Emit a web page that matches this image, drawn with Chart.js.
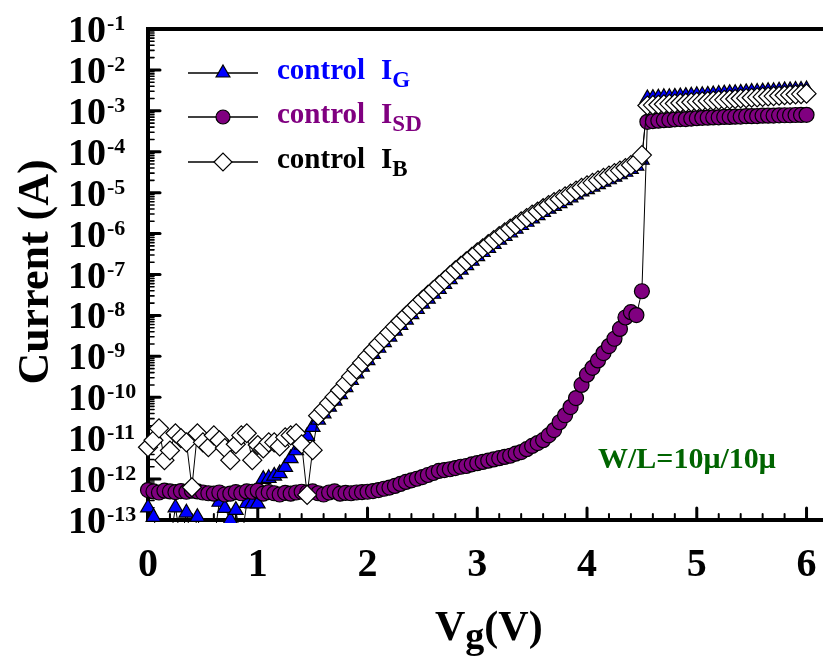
<!DOCTYPE html>
<html>
<head>
<meta charset="utf-8">
<script src="https://cdn.jsdelivr.net/npm/chart.js@4.4.1/dist/chart.umd.min.js"></script>
<style>
  html, body { margin: 0; padding: 0; background: #ffffff; }
  canvas { display: block; }
</style>
</head>
<body>
<canvas id="chart" width="823" height="660"></canvas>
<script>
// Gate voltage sweep (V)
const vg = [
  0.00, 0.05, 0.10, 0.15, 0.20, 0.25, 0.30, 0.35, 0.40, 0.45,
  0.50, 0.55, 0.60, 0.65, 0.70, 0.75, 0.80, 0.85, 0.90, 0.95,
  1.00, 1.05, 1.10, 1.15, 1.20, 1.25, 1.30, 1.35, 1.40, 1.45,
  1.50, 1.55, 1.60, 1.65, 1.70, 1.75, 1.80, 1.85, 1.90, 1.95,
  2.00, 2.05, 2.10, 2.15, 2.20, 2.25, 2.30, 2.35, 2.40, 2.45,
  2.50, 2.55, 2.60, 2.65, 2.70, 2.75, 2.80, 2.85, 2.90, 2.95,
  3.00, 3.05, 3.10, 3.15, 3.20, 3.25, 3.30, 3.35, 3.40, 3.45,
  3.50, 3.55, 3.60, 3.65, 3.70, 3.75, 3.80, 3.85, 3.90, 3.95,
  4.00, 4.05, 4.10, 4.15, 4.20, 4.25, 4.30, 4.35, 4.40, 4.45,
  4.50,
  4.55, 4.60, 4.65, 4.70, 4.75, 4.80, 4.85, 4.90, 4.95, 5.00,
  5.05, 5.10, 5.15, 5.20, 5.25, 5.30, 5.35, 5.40, 5.45, 5.50,
  5.55, 5.60, 5.65, 5.70, 5.75, 5.80, 5.85, 5.90, 5.95, 6.00
];

// Gate current I_G (A)
const iG = [
  2.0e-13, 1.17e-13, 3e-14, 3e-14, 3e-14, 2.0e-13, 3e-14, 1.5e-13, 3e-14, 1.17e-13,
  3e-14, 3e-14, 3e-14, 2.75e-13, 1.95e-13, 1.0e-13, 1.74e-13, 3e-14, 2.57e-13, 2.5e-13,
  2.5e-13, 1.0e-12, 1.05e-12, 1.2e-12, 1.38e-12, 1.95e-12, 3.2e-12, 5.0e-12, 6.8e-12, 1.12e-11,
  1.86e-11, 2.8e-11, 4.0e-11, 5.8e-11, 8.2e-11, 1.18e-10, 1.75e-10, 2.6e-10, 3.8e-10, 5.5e-10,
  8.0e-10, 1.13e-9, 1.6e-9, 2.2e-9, 3.0e-9, 4.2e-9, 5.8e-9, 7.8e-9, 1.06e-8, 1.42e-8,
  1.92e-8, 2.53e-8, 3.34e-8, 4.4e-8, 5.8e-8, 7.6e-8, 1.0e-7, 1.3e-7, 1.67e-7, 2.15e-7,
  2.78e-7, 3.5e-7, 4.4e-7, 5.5e-7, 7.0e-7, 8.6e-7, 1.06e-6, 1.3e-6, 1.6e-6, 1.92e-6,
  2.32e-6, 2.78e-6, 3.34e-6, 4.0e-6, 4.7e-6, 5.5e-6, 6.5e-6, 7.6e-6, 9.0e-6, 1.06e-5,
  1.21e-5, 1.39e-5, 1.6e-5, 1.83e-5, 2.1e-5, 2.42e-5, 2.78e-5, 3.2e-5, 3.76e-5, 4.5e-5,
  6.3e-5,
  2.0e-3, 2.04e-3, 2.09e-3, 2.14e-3, 2.14e-3, 2.19e-3, 2.24e-3, 2.29e-3, 2.34e-3, 2.40e-3,
  2.40e-3, 2.45e-3, 2.51e-3, 2.57e-3, 2.63e-3, 2.69e-3, 2.69e-3, 2.75e-3, 2.82e-3, 2.88e-3,
  2.88e-3, 2.95e-3, 3.02e-3, 3.02e-3, 3.09e-3, 3.16e-3, 3.16e-3, 3.24e-3, 3.24e-3, 3.31e-3
];

// Source-drain current I_SD (A)
const iSD = [
  5.4e-13, 5.0e-13, 4.7e-13, 5.2e-13, 5.0e-13, 4.8e-13, 5.1e-13, 4.9e-13, 5.2e-13, 5.0e-13,
  4.7e-13, 4.5e-13, 4.4e-13, 4.7e-13, 4.2e-13, 4.4e-13, 4.8e-13, 4.5e-13, 5.0e-13, 4.9e-13,
  5.2e-13, 4.4e-13, 4.8e-13, 4.5e-13, 4.2e-13, 4.6e-13, 4.4e-13, 4.7e-13, 4.9e-13, 4.7e-13,
  5.0e-13, 4.5e-13, 4.2e-13, 4.7e-13, 5.0e-13, 4.4e-13, 4.6e-13, 4.5e-13, 4.7e-13, 4.8e-13,
  4.9e-13, 5.1e-13, 5.4e-13, 5.8e-13, 6.2e-13, 6.8e-13, 7.6e-13, 8.5e-13, 9.3e-13, 1.02e-12,
  1.12e-12, 1.26e-12, 1.41e-12, 1.58e-12, 1.66e-12, 1.74e-12, 1.86e-12, 2.0e-12, 2.09e-12, 2.29e-12,
  2.45e-12, 2.63e-12, 2.82e-12, 3.02e-12, 3.24e-12, 3.47e-12, 3.72e-12, 4.17e-12, 4.57e-12, 5.37e-12,
  6.46e-12, 7.59e-12, 8.91e-12, 1.17e-11, 1.58e-11, 2.45e-11, 3.63e-11, 5.75e-11, 9.55e-11, 2.0e-10,
  3.55e-10, 5.25e-10, 7.94e-10, 1.2e-9, 1.78e-9, 2.69e-9, 4.68e-9, 8.9e-9, 1.2e-8, 1.02e-8,
  3.9e-8,
  5.4e-4, 5.6e-4, 5.75e-4, 5.9e-4, 6.0e-4, 6.2e-4, 6.3e-4, 6.3e-4, 6.45e-4, 6.6e-4,
  6.75e-4, 6.8e-4, 6.9e-4, 6.95e-4, 7.1e-4, 7.1e-4, 7.2e-4, 7.25e-4, 7.4e-4, 7.4e-4,
  7.45e-4, 7.6e-4, 7.6e-4, 7.65e-4, 7.75e-4, 7.8e-4, 7.8e-4, 7.9e-4, 7.95e-4, 8.0e-4
];

// Bulk current I_B (A)
const iB = [
  6.0e-12, 8.9e-12, 1.74e-11, 2.9e-12, 5.0e-12, 1.32e-11, 1.0e-11, 7.9e-12, 6.3e-13, 1.32e-11,
  7.9e-12, 6.0e-12, 1.17e-11, 8.9e-12, 5.75e-12, 2.9e-12, 7.1e-12, 1.17e-11, 1.32e-11, 2.9e-12,
  6.8e-12, 5.6e-12, 7.9e-12, 7.9e-12, 6.3e-12, 1.05e-11, 1.17e-11, 1.32e-11, 7.1e-12, 4.1e-13,
  5.1e-12, 3.55e-11, 5.0e-11, 7.2e-11, 1.02e-10, 1.48e-10, 2.19e-10, 3.24e-10, 4.79e-10, 6.9e-10,
  1.0e-9, 1.41e-9, 2.0e-9, 2.75e-9, 3.8e-9, 5.25e-9, 7.2e-9, 9.8e-9, 1.32e-8, 1.78e-8,
  2.4e-8, 3.16e-8, 4.17e-8, 5.5e-8, 7.2e-8, 9.5e-8, 1.26e-7, 1.62e-7, 2.09e-7, 2.69e-7,
  3.47e-7, 4.37e-7, 5.5e-7, 6.9e-7, 8.7e-7, 1.07e-6, 1.32e-6, 1.62e-6, 2.0e-6, 2.4e-6,
  2.9e-6, 3.47e-6, 4.17e-6, 5.0e-6, 5.9e-6, 6.9e-6, 8.1e-6, 9.5e-6, 1.12e-5, 1.32e-5,
  1.51e-5, 1.74e-5, 2.0e-5, 2.29e-5, 2.63e-5, 3.02e-5, 3.47e-5, 4.0e-5, 4.7e-5, 5.6e-5,
  8.3e-5,
  1.35e-3, 1.38e-3, 1.41e-3, 1.45e-3, 1.48e-3, 1.51e-3, 1.55e-3, 1.58e-3, 1.62e-3, 1.66e-3,
  1.70e-3, 1.74e-3, 1.78e-3, 1.82e-3, 1.86e-3, 1.91e-3, 1.95e-3, 2.0e-3, 2.04e-3, 2.09e-3,
  2.14e-3, 2.19e-3, 2.24e-3, 2.29e-3, 2.34e-3, 2.40e-3, 2.45e-3, 2.51e-3, 2.57e-3, 2.63e-3
];

// Axis tick labels
const xTickLabels = [0, 1, 2, 3, 4, 5, 6];
const yTickExponents = [-1, -2, -3, -4, -5, -6, -7, -8, -9, -10, -11, -12, -13];

// Legend text: prefix and subscript of each series
const seriesPrefix = ['control', 'control', 'control'];
const seriesSub = ['G', 'SD', 'B'];
const deviceLabel = 'W/L=10\u03bc/10\u03bc';

const SERIF = '"Liberation Serif", "Times New Roman", serif';
const bold = (px) => `bold ${px}px ${SERIF}`;

const styles = [
  { pointStyle: 'triangle', radius: 8.5, fill: '#0000ff', text: '#0000ff', order: 3 },
  { pointStyle: 'circle',   radius: 7.5, fill: '#800080', text: '#800080', order: 2 },
  { pointStyle: 'rectRot',  radius: 9.5, fill: '#ffffff', text: '#000000', order: 1 }
];

const series = [iG, iSD, iB];

const datasets = series.map((vals, k) => ({
  label: seriesPrefix[k] + ' I' + seriesSub[k],
  data: vg.map((v, i) => ({ x: v, y: vals[i] })),
  order: styles[k].order,
  borderColor: '#000000',
  borderWidth: 1,
  pointStyle: styles[k].pointStyle,
  pointRadius: styles[k].radius,
  pointBackgroundColor: styles[k].fill,
  pointBorderColor: '#000000',
  pointBorderWidth: 1.2,
  tension: 0,
  clip: { left: 14, top: 14, right: 14, bottom: 3 }
}));

// Frame and inward tick marks, drawn beneath the data
const framePlugin = {
  id: 'frame',
  beforeDatasetsDraw(chart) {
    const { ctx, chartArea: a, scales: { x, y } } = chart;
    const seg = (x1, y1, x2, y2) => { ctx.beginPath(); ctx.moveTo(x1, y1); ctx.lineTo(x2, y2); ctx.stroke(); };
    ctx.save();
    ctx.strokeStyle = '#000000';
    ctx.lineCap = 'round';

    // x ticks: majors every 1 V, minors every 0.2 V
    for (let k = 0; k <= 30; k++) {
      const px = x.getPixelForValue(k / 5);
      if (px > a.right) break;
      if (k % 5 === 0) { ctx.lineWidth = 3; seg(px, a.bottom, px, a.bottom - 12); }
      else { ctx.lineWidth = 2; seg(px, a.bottom, px, a.bottom - 6); }
    }
    // y ticks: decades and 2..9 minors
    for (let e = -13; e <= -1; e++) {
      const py = y.getPixelForValue(Math.pow(10, e));
      ctx.lineWidth = 3; seg(a.left, py, a.left + 12, py);
      if (e < -1) {
        for (let m = 2; m <= 9; m++) {
          const pm = y.getPixelForValue(m * Math.pow(10, e));
          ctx.lineWidth = 1.6; seg(a.left, pm, a.left + 6, pm);
        }
      }
    }

    ctx.lineCap = 'square';
    ctx.lineWidth = 4;
    seg(a.left, a.bottom, a.right, a.bottom);
    seg(a.left, a.top, a.right, a.top);
    seg(a.left, a.top, a.left, a.bottom);
    ctx.restore();
  },
  afterDatasetsDraw(chart) {
    const { ctx, scales: { x, y } } = chart;
    ctx.save();
    ctx.fillStyle = '#000000';
    ctx.textBaseline = 'alphabetic';

    // y tick labels: 10 with superscript exponent
    yTickExponents.forEach((e) => {
      const py = y.getPixelForValue(Math.pow(10, e));
      ctx.font = bold(38);
      ctx.textAlign = 'left';
      ctx.fillText('10', 68, py + 13);
      const w = ctx.measureText('10').width;
      ctx.font = bold(22);
      ctx.fillText('-' + String(-e), 68 + w + 1, py + 1);
    });

    // x tick labels
    ctx.font = bold(40);
    ctx.textAlign = 'center';
    xTickLabels.forEach((v) => {
      ctx.fillText(String(v), x.getPixelForValue(v), 576);
    });

    // y axis title
    ctx.save();
    ctx.translate(48, 272);
    ctx.rotate(-Math.PI / 2);
    ctx.font = bold(44);
    ctx.textAlign = 'center';
    ctx.fillText('Current (A)', 0, 0);
    ctx.restore();

    // x axis title V_g(V)
    ctx.textAlign = 'left';
    let cx = 435;
    ctx.font = bold(42);
    ctx.fillText('V', cx, 640);
    cx += ctx.measureText('V').width;
    ctx.font = bold(38);
    ctx.fillText('g', cx, 648);
    cx += ctx.measureText('g').width;
    ctx.font = bold(42);
    ctx.fillText('(V)', cx, 640);

    // legend
    const rows = [73, 117, 162];
    rows.forEach((ry, k) => {
      ctx.strokeStyle = '#000000';
      ctx.lineWidth = 1.5;
      ctx.beginPath(); ctx.moveTo(188, ry); ctx.lineTo(258, ry); ctx.stroke();
      ctx.fillStyle = styles[k].fill;
      ctx.lineWidth = 1.2;
      Chart.helpers.drawPoint(ctx, {
        pointStyle: styles[k].pointStyle,
        radius: styles[k].radius - 0.5,
        rotation: 0,
        borderWidth: 1.2
      }, 223, ry);

      ctx.fillStyle = styles[k].text;
      ctx.font = bold(29);
      ctx.fillText(seriesPrefix[k], 277, ry + 6);
      let tx = 277 + ctx.measureText(seriesPrefix[k]).width + 16;
      ctx.fillText('I', tx, ry + 6);
      tx += ctx.measureText('I').width;
      ctx.font = bold(23);
      ctx.fillText(seriesSub[k], tx, ry + 14);
    });

    // device geometry note
    ctx.fillStyle = '#006400';
    ctx.font = bold(30);
    ctx.fillText(deviceLabel, 598, 468);
    ctx.restore();
  }
};

new Chart(document.getElementById('chart'), {
  type: 'line',
  data: { datasets },
  options: {
    responsive: false,
    animation: false,
    devicePixelRatio: 1,
    layout: { autoPadding: false, padding: { left: 148, right: 0, top: 29, bottom: 140 } },
    plugins: { legend: { display: false }, tooltip: { enabled: false } },
    scales: {
      x: { type: 'linear', min: 0, max: 6.15, display: false },
      y: { type: 'logarithmic', min: 1e-13, max: 1e-1, display: false }
    }
  },
  plugins: [framePlugin]
});
</script>
</body>
</html>
